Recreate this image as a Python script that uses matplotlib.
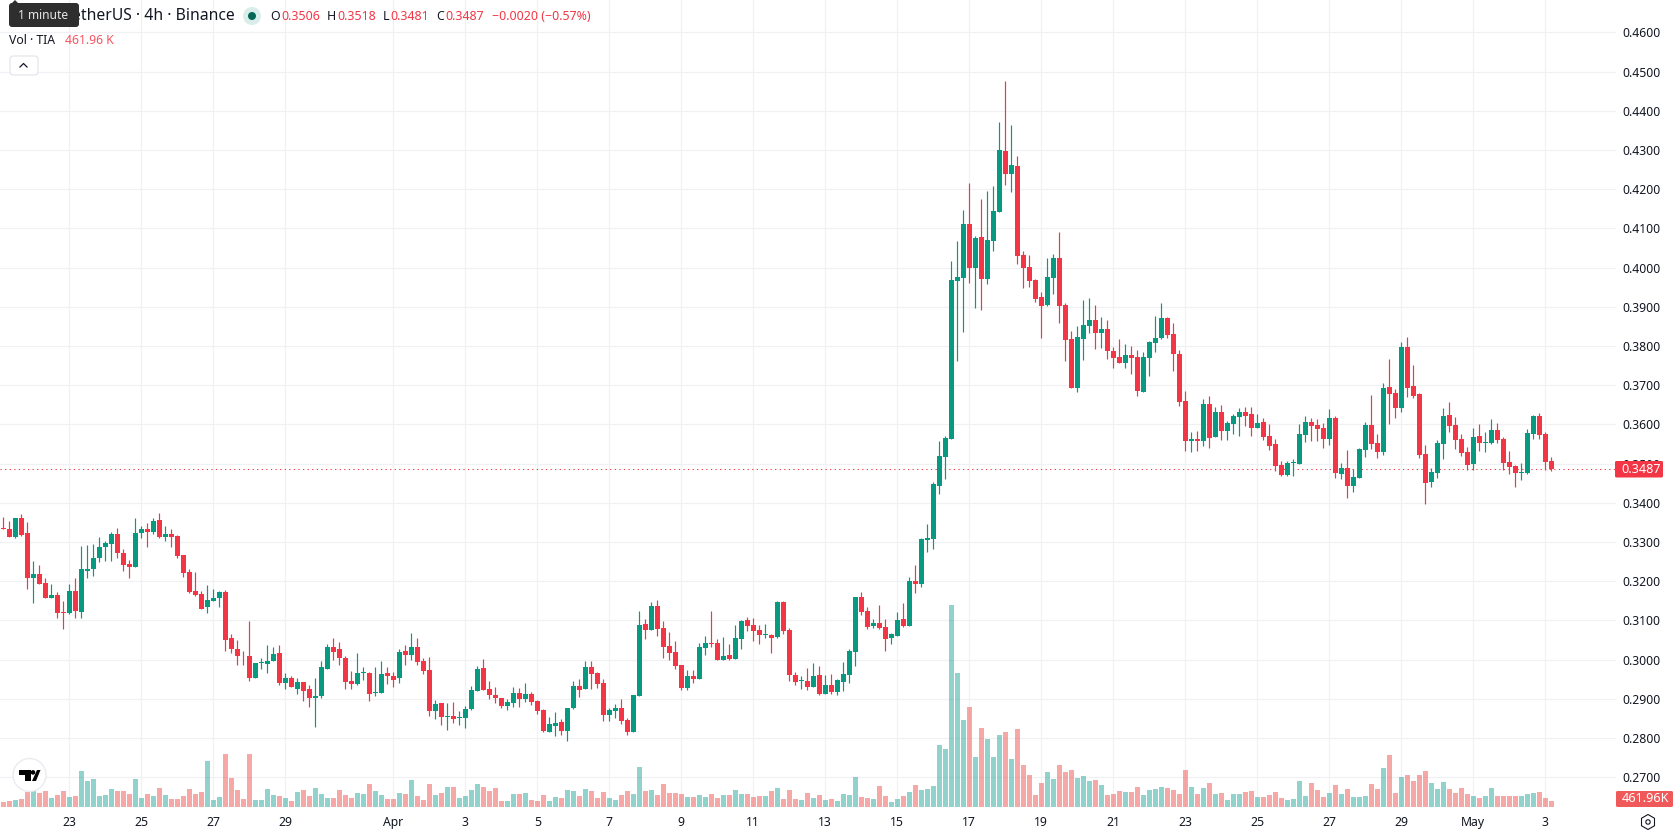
import numpy as np
import matplotlib
matplotlib.use("Agg")
import matplotlib.pyplot as plt
from matplotlib.patches import Circle, FancyBboxPatch, Polygon, Rectangle, RegularPolygon

plt.rcParams['font.family'] = ['Noto Sans', 'DejaVu Sans']

# 4h candles, prices in units of 0.0001
opens = [
    3337, 3334, 3314, 3362, 3324, 3207, 3219, 3196, 3156, 3166,
    3122, 3120, 3176, 3122, 3227, 3230, 3258, 3286, 3296, 3321,
    3273, 3245, 3237, 3324, 3334, 3326, 3357, 3314, 3321, 3316,
    3268, 3224, 3176, 3168, 3133, 3150, 3156, 3173, 3054, 3028,
    3010, 3008, 2952, 2992, 2990, 2997, 3018, 2941, 2952, 2926,
    2944, 2924, 2901, 2906, 2977, 3033, 3026, 3005, 2946, 2939,
    2967, 2967, 2916, 2916, 2967, 2959, 2952, 3023, 3013, 3031,
    2997, 2974, 2869, 2890, 2854, 2857, 2852, 2852, 2875, 2920,
    2979, 2926, 2910, 2903, 2882, 2890, 2915, 2900, 2913, 2895,
    2872, 2816, 2831, 2841, 2818, 2877, 2933, 2926, 2982, 2966,
    2941, 2859, 2869, 2877, 2846, 2816, 2908, 3091, 3076, 3137,
    3081, 3035, 3020, 2987, 2928, 2959, 2951, 3030, 3043, 3043,
    3000, 3012, 3002, 3053, 3102, 3089, 3076, 3063, 3063, 3058,
    3147, 3076, 2961, 2946, 2946, 2931, 2961, 2913, 2936, 2918,
    2943, 2961, 3020, 3160, 3124, 3086, 3093, 3083, 3055, 3060,
    3104, 3086, 3200, 3193, 3305, 3308, 3443, 3517, 3563, 3965,
    3973, 4111, 3999, 4078, 3971, 4067, 4141, 4297, 4238, 4259,
    4032, 4001, 3968, 3925, 3904, 3973, 4024, 3904, 3818, 3693,
    3818, 3851, 3866, 3833, 3843, 3787, 3772, 3756, 3777, 3772,
    3682, 3769, 3807, 3820, 3871, 3830, 3779, 3659, 3557, 3563,
    3557, 3652, 3568, 3631, 3583, 3601, 3619, 3631, 3626, 3591,
    3606, 3570, 3550, 3496, 3471, 3501, 3499, 3573, 3606, 3598,
    3591, 3563, 3616, 3473, 3489, 3443, 3463, 3534, 3598, 3552,
    3529, 3695, 3680, 3642, 3797, 3698, 3677, 3524, 3453, 3476,
    3550, 3624, 3598, 3563, 3529, 3499, 3570, 3552, 3552, 3586,
    3563, 3504, 3494, 3476, 3476, 3575, 3621, 3575, 3506,
]
closes = [
    3332, 3314, 3362, 3319, 3207, 3219, 3194, 3156, 3166, 3120,
    3120, 3176, 3125, 3230, 3232, 3258, 3286, 3298, 3321, 3273,
    3242, 3237, 3324, 3334, 3326, 3354, 3314, 3321, 3314, 3265,
    3222, 3173, 3166, 3130, 3153, 3158, 3173, 3051, 3026, 3008,
    3008, 2952, 2992, 2995, 2997, 3015, 2941, 2952, 2929, 2944,
    2921, 2901, 2908, 2980, 3033, 3020, 3003, 2944, 2939, 2967,
    2969, 2913, 2918, 2964, 2957, 2949, 3020, 3013, 3031, 2995,
    2971, 2869, 2887, 2854, 2857, 2849, 2854, 2875, 2923, 2977,
    2923, 2910, 2903, 2882, 2892, 2915, 2900, 2913, 2892, 2869,
    2818, 2836, 2839, 2818, 2877, 2933, 2923, 2982, 2964, 2938,
    2859, 2872, 2877, 2844, 2816, 2910, 3089, 3076, 3137, 3079,
    3033, 3017, 2984, 2928, 2959, 2951, 3033, 3043, 3040, 3000,
    3010, 3002, 3056, 3099, 3086, 3073, 3063, 3066, 3056, 3147,
    3073, 2961, 2943, 2949, 2931, 2959, 2913, 2936, 2918, 2949,
    2964, 3022, 3160, 3121, 3083, 3093, 3081, 3053, 3065, 3101,
    3086, 3200, 3193, 3308, 3310, 3448, 3519, 3565, 3968, 3976,
    4111, 3999, 4075, 3971, 4070, 4144, 4300, 4238, 4261, 4029,
    3999, 3965, 3920, 3902, 3976, 4024, 3902, 3815, 3693, 3823,
    3853, 3866, 3833, 3843, 3787, 3769, 3756, 3777, 3769, 3685,
    3772, 3810, 3820, 3871, 3828, 3779, 3657, 3557, 3563, 3557,
    3652, 3565, 3631, 3583, 3603, 3621, 3631, 3621, 3591, 3603,
    3568, 3545, 3494, 3471, 3501, 3504, 3575, 3606, 3596, 3588,
    3563, 3616, 3476, 3489, 3443, 3466, 3537, 3598, 3550, 3529,
    3693, 3677, 3642, 3797, 3693, 3672, 3522, 3450, 3478, 3552,
    3621, 3596, 3560, 3527, 3496, 3568, 3552, 3555, 3586, 3560,
    3501, 3491, 3476, 3478, 3578, 3621, 3573, 3504, 3487,
]
highs = [
    3364, 3354, 3362, 3372, 3352, 3252, 3242, 3207, 3194, 3173,
    3150, 3194, 3207, 3291, 3293, 3296, 3314, 3303, 3326, 3337,
    3283, 3255, 3362, 3342, 3349, 3360, 3375, 3342, 3332, 3319,
    3268, 3230, 3224, 3176, 3191, 3181, 3176, 3178, 3066, 3051,
    3023, 3099, 2992, 3003, 3038, 3033, 3036, 2967, 2959, 2954,
    2944, 2936, 2952, 2997, 3041, 3054, 3046, 3008, 2972, 3018,
    2982, 2969, 2980, 2997, 2982, 2969, 3028, 3038, 3069, 3056,
    3005, 3007, 2898, 2890, 2890, 2892, 2869, 2882, 2933, 2984,
    3002, 2946, 2931, 2903, 2900, 2931, 2928, 2941, 2918, 2898,
    2875, 2854, 2867, 2849, 2877, 2946, 2951, 2997, 2997, 2969,
    2951, 2877, 2887, 2900, 2852, 2910, 3124, 3104, 3147, 3152,
    3099, 3071, 3048, 2987, 2974, 2974, 3043, 3061, 3124, 3053,
    3058, 3040, 3089, 3102, 3109, 3107, 3089, 3091, 3066, 3150,
    3150, 3081, 2969, 2959, 2979, 2992, 2984, 2961, 2964, 2951,
    2994, 3028, 3160, 3172, 3134, 3104, 3139, 3104, 3068, 3121,
    3144, 3211, 3241, 3310, 3346, 3453, 3557, 3570, 4016, 4067,
    4147, 4215, 4080, 4175, 4195, 4208, 4371, 4475, 4363, 4284,
    4042, 4032, 3971, 3937, 4024, 4034, 4090, 3909, 3838, 3851,
    3917, 3922, 3904, 3874, 3866, 3797, 3818, 3805, 3800, 3790,
    3784, 3812, 3876, 3909, 3874, 3858, 3790, 3685, 3580, 3583,
    3665, 3672, 3644, 3649, 3608, 3626, 3642, 3644, 3644, 3626,
    3616, 3601, 3563, 3506, 3506, 3512, 3601, 3621, 3616, 3613,
    3603, 3639, 3621, 3501, 3534, 3486, 3540, 3606, 3675, 3575,
    3705, 3767, 3690, 3810, 3823, 3751, 3680, 3547, 3489, 3560,
    3642, 3657, 3619, 3575, 3542, 3591, 3601, 3580, 3614, 3603,
    3568, 3532, 3496, 3501, 3588, 3624, 3629, 3580, 3518,
]
lows = [
    3332, 3314, 3309, 3316, 3181, 3145, 3194, 3156, 3156, 3105,
    3079, 3117, 3107, 3107, 3209, 3214, 3250, 3252, 3252, 3258,
    3227, 3207, 3237, 3309, 3286, 3321, 3311, 3303, 3288, 3260,
    3212, 3171, 3163, 3130, 3120, 3150, 3135, 3023, 3018, 2985,
    2987, 2946, 2952, 2977, 2967, 2997, 2934, 2926, 2929, 2911,
    2895, 2880, 2827, 2903, 2977, 3000, 2987, 2926, 2926, 2936,
    2949, 2895, 2908, 2916, 2939, 2929, 2941, 2987, 3000, 2987,
    2964, 2857, 2849, 2834, 2821, 2839, 2834, 2826, 2872, 2920,
    2923, 2900, 2890, 2877, 2872, 2880, 2880, 2892, 2885, 2862,
    2816, 2816, 2806, 2808, 2793, 2875, 2905, 2926, 2926, 2928,
    2844, 2844, 2852, 2836, 2808, 2816, 2908, 3053, 3076, 3061,
    3005, 3000, 2977, 2923, 2923, 2941, 2951, 3012, 3033, 3000,
    3000, 3000, 3002, 3028, 3073, 3048, 3040, 3056, 3017, 3056,
    3066, 2946, 2936, 2926, 2923, 2931, 2910, 2913, 2913, 2910,
    2920, 2941, 2984, 3114, 3078, 3081, 3078, 3022, 3040, 3060,
    3083, 3086, 3170, 3185, 3274, 3282, 3422, 3461, 3563, 3761,
    3835, 3960, 3897, 3891, 3958, 4042, 4141, 4210, 4192, 4009,
    3948, 3950, 3912, 3820, 3902, 3932, 3858, 3761, 3693, 3682,
    3764, 3833, 3792, 3795, 3767, 3744, 3756, 3744, 3728, 3672,
    3682, 3723, 3784, 3818, 3820, 3736, 3647, 3532, 3529, 3532,
    3545, 3540, 3568, 3560, 3560, 3575, 3570, 3596, 3570, 3591,
    3560, 3535, 3481, 3468, 3468, 3468, 3499, 3555, 3557, 3557,
    3540, 3547, 3463, 3461, 3412, 3427, 3463, 3517, 3537, 3514,
    3522, 3601, 3616, 3631, 3670, 3667, 3514, 3397, 3440, 3463,
    3512, 3580, 3537, 3519, 3484, 3484, 3532, 3529, 3550, 3552,
    3484, 3473, 3440, 3458, 3473, 3563, 3563, 3484, 3481,
]
# volume in thousands of TIA
volumes = [
    385, 462, 539, 616, 1155, 1309, 1078, 1232, 693, 924,
    1232, 770, 847, 2772, 2002, 2156, 847, 924, 1386, 1232,
    1232, 1001, 2156, 693, 1001, 847, 1463, 924, 616, 616,
    847, 1386, 1001, 1155, 3542, 539, 770, 4081, 2233, 1309,
    616, 4081, 539, 539, 1386, 924, 847, 693, 462, 1155,
    1309, 847, 1463, 1001, 693, 693, 1309, 924, 693, 1078,
    1001, 1771, 1232, 924, 616, 616, 1078, 1001, 2079, 847,
    539, 1771, 924, 1078, 1540, 1540, 693, 847, 1309, 1771,
    1540, 1232, 1463, 462, 462, 1001, 1001, 1078, 539, 462,
    924, 462, 770, 693, 1309, 1232, 847, 1386, 1232, 693,
    1155, 693, 539, 924, 1232, 1001, 3080, 1232, 1309, 924,
    1771, 1078, 1078, 1001, 770, 770, 924, 770, 1001, 693,
    924, 924, 1309, 1001, 1001, 770, 847, 847, 1232, 1463,
    616, 1309, 616, 539, 1078, 693, 924, 539, 616, 462,
    1001, 924, 2310, 770, 693, 616, 1617, 847, 385, 616,
    847, 1155, 1694, 1309, 1386, 1617, 4774, 4466, 15524, 10290,
    6672, 7672, 3823, 6056, 5209, 3823, 5517, 5748, 3695, 5979,
    3234, 2464, 924, 1848, 2695, 2156, 3234, 2695, 2849, 2233,
    2387, 2002, 2079, 1694, 924, 1001, 1232, 1155, 1155, 1540,
    924, 1309, 1386, 1540, 1463, 1309, 1001, 2849, 1540, 1001,
    1463, 1848, 1001, 1078, 539, 1001, 1001, 1155, 1232, 770,
    770, 924, 1155, 693, 539, 616, 2002, 847, 1848, 1309,
    770, 1078, 1694, 1001, 1386, 770, 770, 847, 1771, 1386,
    3003, 4004, 1078, 2310, 2464, 2002, 2464, 2772, 1848, 1386,
    1925, 1386, 1078, 1463, 1001, 847, 693, 847, 1463, 847,
    847, 847, 847, 847, 1001, 1078, 1155, 693, 461.96,
]

price_ticks = [0.27, 0.28, 0.29, 0.30, 0.31, 0.32, 0.33, 0.34, 0.35, 0.36,
               0.37, 0.38, 0.39, 0.40, 0.41, 0.42, 0.43, 0.44, 0.45, 0.46]
date_ticks = [11, 23, 35, 47, 65, 77, 89, 101, 113, 125, 137, 149, 161, 173,
              185, 197, 209, 221, 233, 245, 257]
date_labels = ['23', '25', '27', '29', 'Apr', '3', '5', '7', '9', '11', '13', '15',
               '17', '19', '21', '23', '25', '27', '29', 'May', '3']
last_price = 0.3487

UP = '#089981'
DOWN = '#f23645'
VOL_UP = '#26a69a'
VOL_DOWN = '#ef5350'
GRID = '#f0f1f4'
TEXT = '#131722'

W, H = 1678, 835
PANE_W, PANE_H = 1616, 807

opens = np.array(opens) / 10000
closes = np.array(closes) / 10000
highs = np.array(highs) / 10000
lows = np.array(lows) / 10000
volumes = np.array(volumes)
x = np.arange(len(opens))
rising = closes >= opens

fig = plt.figure(figsize=(W / 100, H / 100), dpi=100, facecolor='white')
rect = [0, (H - PANE_H) / H, PANE_W / W, PANE_H / H]
ax = fig.add_axes(rect)
ax.set_xlim(-0.55, 268.78)
ax.set_ylim(0.2624, 0.46827)

for side in ax.spines.values():
    side.set_visible(False)
ax.set_axisbelow(True)
ax.grid(True, color=GRID, lw=0.9)
ax.yaxis.tick_right()
ax.set_yticks(price_ticks)
ax.set_yticklabels(['{:.4f}'.format(p) for p in price_ticks], fontsize=8.8, color=TEXT)
ax.set_xticks(date_ticks)
ax.set_xticklabels(date_labels, fontsize=8.8, color=TEXT)
for lab in ax.get_xticklabels():
    if lab.get_text() in ('Apr', 'May'):
        lab.set_fontweight('bold')
ax.tick_params(axis='y', length=0, pad=4.5)
ax.tick_params(axis='x', length=0, pad=6.5)

# last price line sits under the candles
ax.axhline(last_price, color=DOWN, lw=0.75, linestyle=(0, (1.2, 3.2)), zorder=1.5)

candle_colors = [UP if r else DOWN for r in rising]
ax.vlines(x, lows, highs, colors=candle_colors, lw=0.85, zorder=2)
ax.bar(x, np.abs(closes - opens), bottom=np.minimum(opens, closes), width=0.8,
       color=candle_colors, linewidth=0, zorder=3)

# volume pane on the same x range, scaled so the bars stay in the lower part
ax_vol = fig.add_axes(rect, sharex=ax)
ax_vol.patch.set_visible(False)
ax_vol.axis('off')
ax_vol.set_ylim(0, 62125)
ax_vol.bar(x, volumes, width=0.8, color=[VOL_UP if r else VOL_DOWN for r in rising],
           alpha=0.5, linewidth=0)
ax.set_xlim(-0.55, 268.78)

# widgets on top of the chart, placed in screen pixels
ui = fig.add_axes([0, 0, 1, 1])
ui.set_xlim(0, W)
ui.set_ylim(H, 0)
ui.axis('off')
ui.patch.set_visible(False)


def label(px, py, s, color=TEXT, size=8.8, ha='left', **kw):
    ui.text(px, py, s, color=color, fontsize=size, ha=ha, va='center', **kw)


# legend rows
label(235, 16, 'etherUS · 4h · Binance', size=11.3, ha='right')
ui.add_patch(Circle((252, 16), 9, fc='#d9eeeb', ec='none'))
ui.add_patch(Circle((252, 16), 4, fc='#056656', ec='none'))
for px, s in [(270, 'O'), (327, 'H'), (383, 'L'), (436, 'C')]:
    label(px, 16, s, size=8.9)
for px, s in [(281, '0.3506'), (337, '0.3518'), (390, '0.3481'), (445, '0.3487'),
              (492, '−0.0020 (−0.57%)')]:
    label(px, 16, s, color=DOWN, size=8.9)
label(9, 40.5, 'Vol · TIA')
label(65, 40.5, '461.96 K', color='#f7525f')

# collapse button
ui.add_patch(FancyBboxPatch((10, 56), 28, 19, boxstyle='round,pad=0,rounding_size=3',
                            fc='white', ec='#e0e3eb', lw=0.8))
ui.plot([20, 23.5, 27], [67, 63.5, 67], color=TEXT, lw=0.9)

# hover tooltip
ui.add_patch(Polygon([(11, 4), (15, 0), (19, 4)], fc='#2e2e2e', ec='none'))
ui.add_patch(FancyBboxPatch((9, 3), 70, 24, boxstyle='round,pad=0,rounding_size=3',
                            fc='#2e2e2e', ec='none', zorder=3))
label(18, 15.5, '1 minute', color='#e6e6e6', size=8.6, zorder=4)

# logo badge
ui.add_patch(Circle((29.5, 775), 16.5, fc='white', ec='#e9ebf0', lw=1))
ui.add_patch(Polygon([(19, 770), (31, 770), (31, 781), (25, 781), (25, 774.5), (19, 774.5)],
                     fc='black', ec='none'))
ui.add_patch(Circle((33, 772.4), 2.3, fc='black', ec='none'))
ui.add_patch(Polygon([(37, 770), (40.5, 770), (36, 781), (32, 781)], fc='black', ec='none'))

# value tags on the price scale
ui.add_patch(FancyBboxPatch((1615, 461), 48, 16.5, boxstyle='round,pad=0,rounding_size=1.5',
                            fc=DOWN, ec='none', zorder=3))
label(1621.5, 469.2, '0.3487', color='white', size=9.1, zorder=4)
ui.add_patch(FancyBboxPatch((1616, 791), 57, 16, boxstyle='round,pad=0,rounding_size=1.5',
                            fc='#f0595a', ec='none', zorder=3))
label(1621.5, 799, '461.96K', color='white', size=9.1, zorder=4)

# settings icon
ui.add_patch(RegularPolygon((1648, 822), 6, radius=7.5, fc='white', ec=TEXT, lw=0.8))
ui.add_patch(Circle((1648, 822), 2.2, fc='white', ec=TEXT, lw=0.8))

fig.savefig('out.png', dpi=100)
